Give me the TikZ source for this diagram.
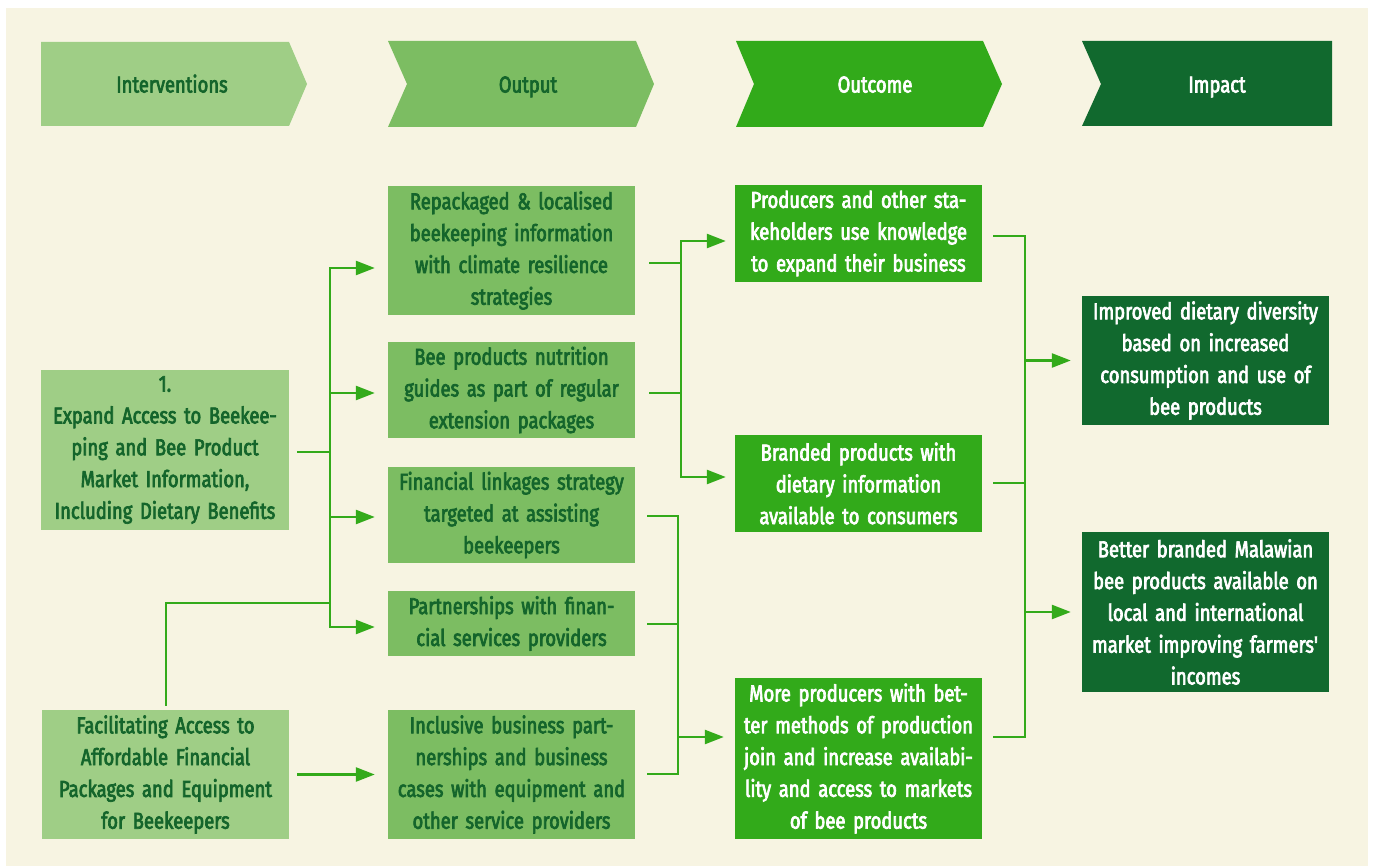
\documentclass[tikz,border=0pt]{standalone}
\usepackage{fontspec}
\setmainfont{Fira Sans}[FakeStretch=0.8,FakeBold=3]
\usetikzlibrary{arrows.meta,calc}

\definecolor{pagebg}{HTML}{F7F4E2}
\definecolor{gInt}{HTML}{9FCE86}
\definecolor{gOut}{HTML}{7CBD62}
\definecolor{gOc}{HTML}{32AA1A}
\definecolor{gImp}{HTML}{11692E}
\definecolor{gText}{HTML}{14652B}
\definecolor{gLine}{HTML}{33AA1A}

\tikzset{
  box/.style={inner sep=0pt, align=center, text width=247pt, minimum width=247pt,
    font=\fontsize{23}{31.8}\selectfont},
  intbox/.style={box, fill=gInt, text=gText},
  outbox/.style={box, fill=gOut, text=gText},
  ocbox/.style={box, fill=gOc, text=white},
  impbox/.style={box, fill=gImp, text=white},
  headtext/.style={inner sep=0pt, anchor=base, font=\fontsize{23}{28}\selectfont},
  wire/.style={draw=gLine, line width=2.5pt, line join=miter},
  arr/.style={wire, -{Triangle[length=19pt,width=14pt]}},
}

\begin{document}
\begin{tikzpicture}[x=1pt,y=-1pt]
\useasboundingbox (0,0) rectangle (1373,866);
\fill[white] (0,0) rectangle (1373,866);
\fill[pagebg] (6,8) rectangle (1368,866);

% column headers
\fill[gInt] (41,42) -- (289,42) -- (307,84) -- (289,126) -- (41,126) -- cycle;
\fill[gOut] (388,41) -- (636,41) -- (654,84) -- (636,127) -- (388,127) -- (407,84) -- cycle;
\fill[gOc]  (736,41) -- (983,41) -- (1002,84) -- (983,127) -- (736,127) -- (754,84) -- cycle;
\fill[gImp] (1082,41) -- (1332,41) -- (1332,126) -- (1082,126) -- (1101,84) -- cycle;
\node[headtext, text=gText] (hint) at (172,92.5) {Interventions};
\node[headtext, text=gText] (hout) at (528,92.5) {Output};
\node[headtext, text=white] (hoc)  at (875,92.5) {Outcome};
\node[headtext, text=white] (himp) at (1217,92.5) {Impact};

% interventions
\node[intbox, text width=248pt, minimum width=248pt, minimum height=160pt] (int1) at (165,450)
  {1.\\Expand Access to Beekee-\\ping and Bee Product\\Market Information,\\Including Dietary Benefits};
\node[intbox, minimum height=129pt] (int2) at (165.5,774.5)
  {Facilitating Access to\\Affordable Financial\\Packages and Equipment\\for Beekeepers};

% outputs
\node[outbox, minimum height=129pt] (o1) at (511.5,250.5)
  {Repackaged \& localised\\beekeeping information\\with climate resilience\\strategies};
\node[outbox, minimum height=96pt] (o2) at (511.5,390)
  {Bee products nutrition\\guides as part of regular\\extension packages};
\node[outbox, minimum height=96pt] (o3) at (511.5,515)
  {Financial linkages strategy\\targeted at assisting\\beekeepers};
\node[outbox, minimum height=65pt] (o4) at (511.5,623.5)
  {Partnerships with finan-\\cial services providers};
\node[outbox, minimum height=129pt] (o5) at (511.5,774.5)
  {Inclusive business part-\\nerships and business\\cases with equipment and\\other service providers};

% outcomes
\node[ocbox, minimum height=97pt] (c1) at (858.5,233.5)
  {Producers and other sta-\\keholders use knowledge\\to expand their business};
\node[ocbox, minimum height=97pt] (c2) at (858.5,483.5)
  {Branded products with\\dietary information\\available to consumers};
\node[ocbox, minimum height=161pt] (c3) at (858.5,758.5)
  {More producers with bet-\\ter methods of production\\join and increase availabi-\\lity and access to markets\\of bee products};

% impacts
\node[impbox, minimum height=129pt] (i1) at (1205.5,360.5)
  {Improved dietary diversity\\based on increased\\consumption and use of\\bee products};
\node[impbox, minimum height=160pt] (i2) at (1205.5,612)
  {Better branded Malawian\\bee products available on\\local and international\\market improving farmers\textquotesingle\\incomes};

% junction points of the connector buses
\coordinate (bus1) at (330,452);
\coordinate (bus2) at (681,330);
\coordinate (bus3) at (678,737);
\coordinate (bus4) at (1025,483);

% interventions -> outputs
\draw[wire] ($(int1.east)+(8,2)$) -- (bus1);
\draw[arr] (bus1) |- ($(o1.west)+(-13,17.5)$);
\draw[arr] (bus1) |- ($(o2.west)+(-13,3)$);
\draw[arr] (bus1) |- ($(o3.west)+(-13,2)$);
\draw[arr] (bus1) |- ($(o4.west)+(-13,3.5)$);
\draw[wire] ($(int2.north)+(0.5,-4)$) |- (bus1 |- 0,603);
\draw[arr] ($(int2.east)+(8,0)$) -- ($(o5.west)+(-13,0)$);

% outputs -> outcomes
\draw[wire] ($(o1.east)+(14,12.5)$) -| (bus2);
\draw[wire] ($(o2.east)+(14,3)$) -| (bus2);
\draw[arr] (bus2) |- ($(c1.west)+(-9,7.5)$);
\draw[arr] (bus2) |- ($(c2.west)+(-9,-6.5)$);
\draw[wire] ($(o3.east)+(12,1)$) -| (bus3);
\draw[wire] ($(o4.east)+(12,0.5)$) -| (bus3);
\draw[wire] ($(o5.east)+(12,-0.5)$) -| (bus3);
\draw[arr] (bus3) -- ($(c3.west)+(-11,-21.5)$);

% outcomes -> impacts
\draw[wire] ($(c1.east)+(11,2.5)$) -| (bus4);
\draw[wire] ($(c2.east)+(11,-0.5)$) -- (bus4);
\draw[wire] ($(c3.east)+(11,-21.5)$) -| (bus4);
\draw[arr] (bus4) |- ($(i1.west)+(-11,0)$);
\draw[arr] (bus4) |- ($(i2.west)+(-11,0)$);
\end{tikzpicture}
\end{document}
